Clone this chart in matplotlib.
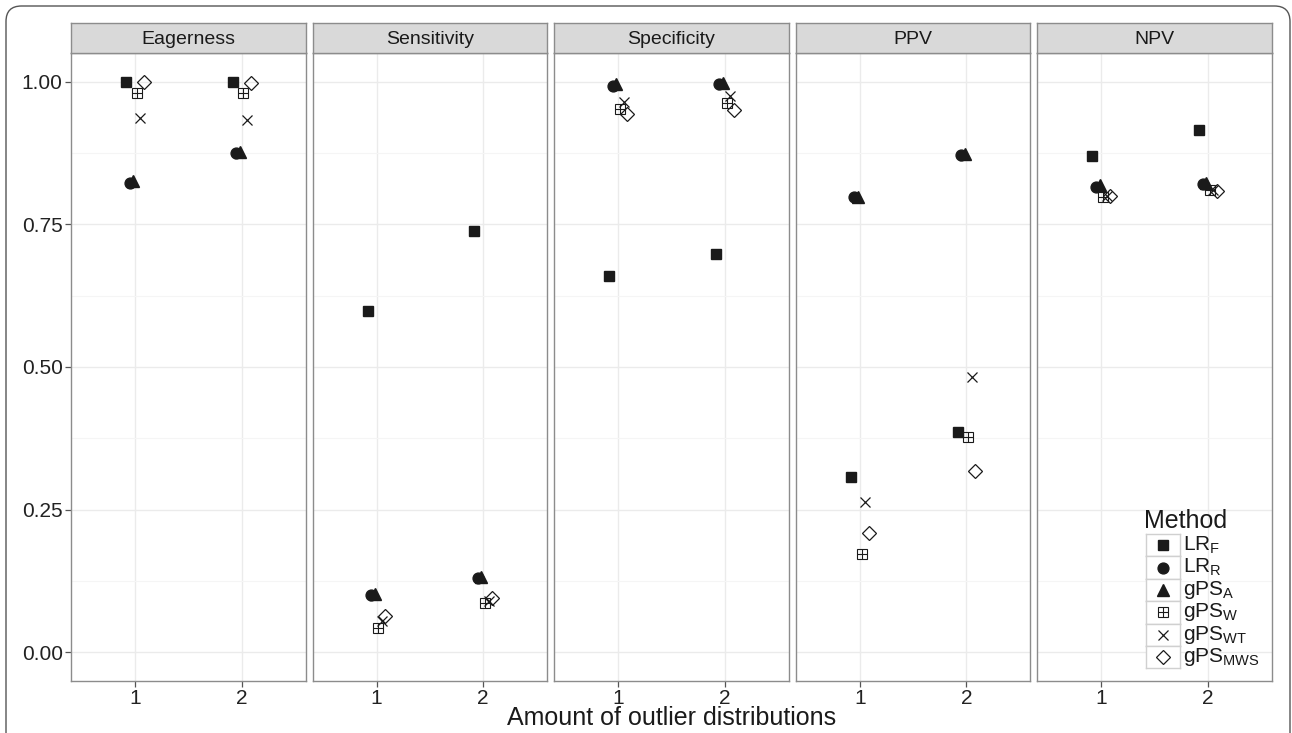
import numpy as np
import matplotlib
matplotlib.use("Agg")
import matplotlib.pyplot as plt
from matplotlib.patches import FancyBboxPatch

plt.rcParams["font.family"] = ["Liberation Sans", "DejaVu Sans"]
plt.rcParams["mathtext.fontset"] = "custom"
plt.rcParams["mathtext.rm"] = "Liberation Sans"
plt.rcParams["mathtext.it"] = "Liberation Sans"

panels = ["Eagerness", "Sensitivity", "Specificity", "PPV", "NPV"]
amounts = [1, 2]
methods = ["LR_F", "LR_R", "gPS_A", "gPS_W", "gPS_WT", "gPS_MWS"]
method_labels = [r"LR$_\mathrm{F}$", r"LR$_\mathrm{R}$", r"gPS$_\mathrm{A}$",
                 r"gPS$_\mathrm{W}$", r"gPS$_\mathrm{WT}$", r"gPS$_\mathrm{MWS}$"]

# values[panel][method] = [amount 1, amount 2]
eagerness = {"LR_F": [1.00, 1.00], "LR_R": [0.823, 0.875], "gPS_A": [0.825, 0.877],
             "gPS_W": [0.980, 0.980], "gPS_WT": [0.937, 0.933], "gPS_MWS": [1.000, 0.997]}
sensitivity = {"LR_F": [0.598, 0.738], "LR_R": [0.100, 0.130], "gPS_A": [0.102, 0.132],
               "gPS_W": [0.042, 0.087], "gPS_WT": [0.055, 0.090], "gPS_MWS": [0.063, 0.095]}
specificity = {"LR_F": [0.660, 0.698], "LR_R": [0.993, 0.995], "gPS_A": [0.995, 0.997],
               "gPS_W": [0.952, 0.963], "gPS_WT": [0.965, 0.975], "gPS_MWS": [0.943, 0.950]}
ppv = {"LR_F": [0.308, 0.387], "LR_R": [0.797, 0.872], "gPS_A": [0.797, 0.873],
       "gPS_W": [0.173, 0.377], "gPS_WT": [0.263, 0.483], "gPS_MWS": [0.210, 0.318]}
npv = {"LR_F": [0.870, 0.915], "LR_R": [0.815, 0.820], "gPS_A": [0.818, 0.822],
       "gPS_W": [0.798, 0.810], "gPS_WT": [0.800, 0.810], "gPS_MWS": [0.800, 0.808]}
values = [eagerness, sensitivity, specificity, ppv, npv]

ink = "#1a1a1a"
border = "#8c8c8c"
grid_major = "#ebebeb"
grid_minor = "#f5f5f5"


def draw_marker(ax, x, y, m, scale=1.0):
    if m == "LR_F":
        ax.plot(x, y, "s", ms=7.5 * scale, color=ink, mec=ink, zorder=3)
    elif m == "LR_R":
        ax.plot(x, y, "o", ms=7.8 * scale, color=ink, mec=ink, zorder=3)
    elif m == "gPS_A":
        ax.plot(x, y, "^", ms=8.2 * scale, color=ink, mec=ink, zorder=3)
    elif m == "gPS_W":
        ax.plot(x, y, "s", ms=7.2 * scale, mfc="none", mec=ink, mew=0.8, zorder=3)
        ax.plot(x, y, "+", ms=7.2 * scale, mec=ink, mew=0.8, zorder=3)
    elif m == "gPS_WT":
        ax.plot(x, y, "x", ms=7.8 * scale, mec=ink, mew=0.9, zorder=3)
    elif m == "gPS_MWS":
        ax.plot(x, y, "D", ms=7.6 * scale, mfc="none", mec=ink, mew=0.9, zorder=3)


fig = plt.figure(figsize=(12.92, 7.33), dpi=100)
fig.patch.set_facecolor("white")
frame = FancyBboxPatch((6 / 1292, -0.05), 1 - 8 / 1292, 1.05 - 6 / 733,
                       boxstyle="round,pad=0,rounding_size=0.012",
                       transform=fig.transFigure, fc="white", ec="#555555", lw=1.0,
                       mutation_aspect=1292 / 733, zorder=-10)
fig.patches.append(frame)

left, right, bottom, top = 71 / 1292, 1272 / 1292, 1 - 681 / 733, 1 - 53 / 733
gap = 7 / 1292
pw = (right - left - 4 * gap) / 5
strip_h = 30 / 733
ndodge = len(methods)
for p, name in enumerate(panels):
    x0 = left + p * (pw + gap)
    ax = fig.add_axes([x0, bottom, pw, top - bottom])
    ax.set_xlim(0.4, 2.6)
    ax.set_ylim(-0.05, 1.05)
    ax.set_xticks(amounts)
    ax.set_xticklabels([str(a) for a in amounts])
    ax.set_yticks([0, 0.25, 0.5, 0.75, 1.0])
    ax.set_yticks([0.125, 0.375, 0.625, 0.875], minor=True)
    ax.grid(True, which="major", color=grid_major, lw=1.0, zorder=0)
    ax.grid(True, which="minor", axis="y", color=grid_minor, lw=0.8, zorder=0)
    ax.set_axisbelow(True)
    for s in ax.spines.values():
        s.set_color(border)
        s.set_linewidth(1.0)
    ax.tick_params(which="major", length=4, color="#555555", labelsize=15,
                   labelcolor="#222222", width=0.9, pad=2)
    ax.tick_params(which="minor", length=0)
    if p == 0:
        ax.set_yticklabels(["0.00", "0.25", "0.50", "0.75", "1.00"])
    else:
        ax.tick_params(axis="y", which="major", labelleft=False, length=0)
    for k, m in enumerate(methods):
        off = (k - (ndodge - 1) / 2) * 0.2 / ndodge
        for j, a in enumerate(amounts):
            draw_marker(ax, a + off, values[p][m][j], m)
    # strip
    sax = fig.add_axes([x0, top, pw, strip_h])
    sax.set_facecolor("#d9d9d9")
    sax.set_xticks([])
    sax.set_yticks([])
    for s in sax.spines.values():
        s.set_color(border)
        s.set_linewidth(1.0)
    sax.text(0.5, 0.45, name, ha="center", va="center", fontsize=14, color=ink,
             transform=sax.transAxes)

fig.text((left + right) / 2, 1 - 718 / 733, "Amount of outlier distributions",
         ha="center", va="center", fontsize=18, color=ink)

# legend
lg_x, lg_w = 1146 / 1292, 34 / 1292
row_h = 22.4 / 733
lg_top = 1 - 534 / 733
fig.text(1144 / 1292, 1 - 521 / 733, "Method", ha="left", va="center",
         fontsize=18, color=ink)
for k, m in enumerate(methods):
    y0 = lg_top - (k + 1) * row_h
    kax = fig.add_axes([lg_x, y0, lg_w, row_h])
    kax.set_xlim(0, 1)
    kax.set_ylim(0, 1)
    kax.set_xticks([])
    kax.set_yticks([])
    kax.set_facecolor("white")
    for s in kax.spines.values():
        s.set_color("#d0d0d0")
        s.set_linewidth(1.0)
    draw_marker(kax, 0.5, 0.5, m, scale=1.0)
    fig.text(lg_x + lg_w + 3 / 1292, y0 + row_h / 2, method_labels[k], ha="left",
             va="center", fontsize=15, color=ink)

fig.savefig("out.png", dpi=100, facecolor="white")
